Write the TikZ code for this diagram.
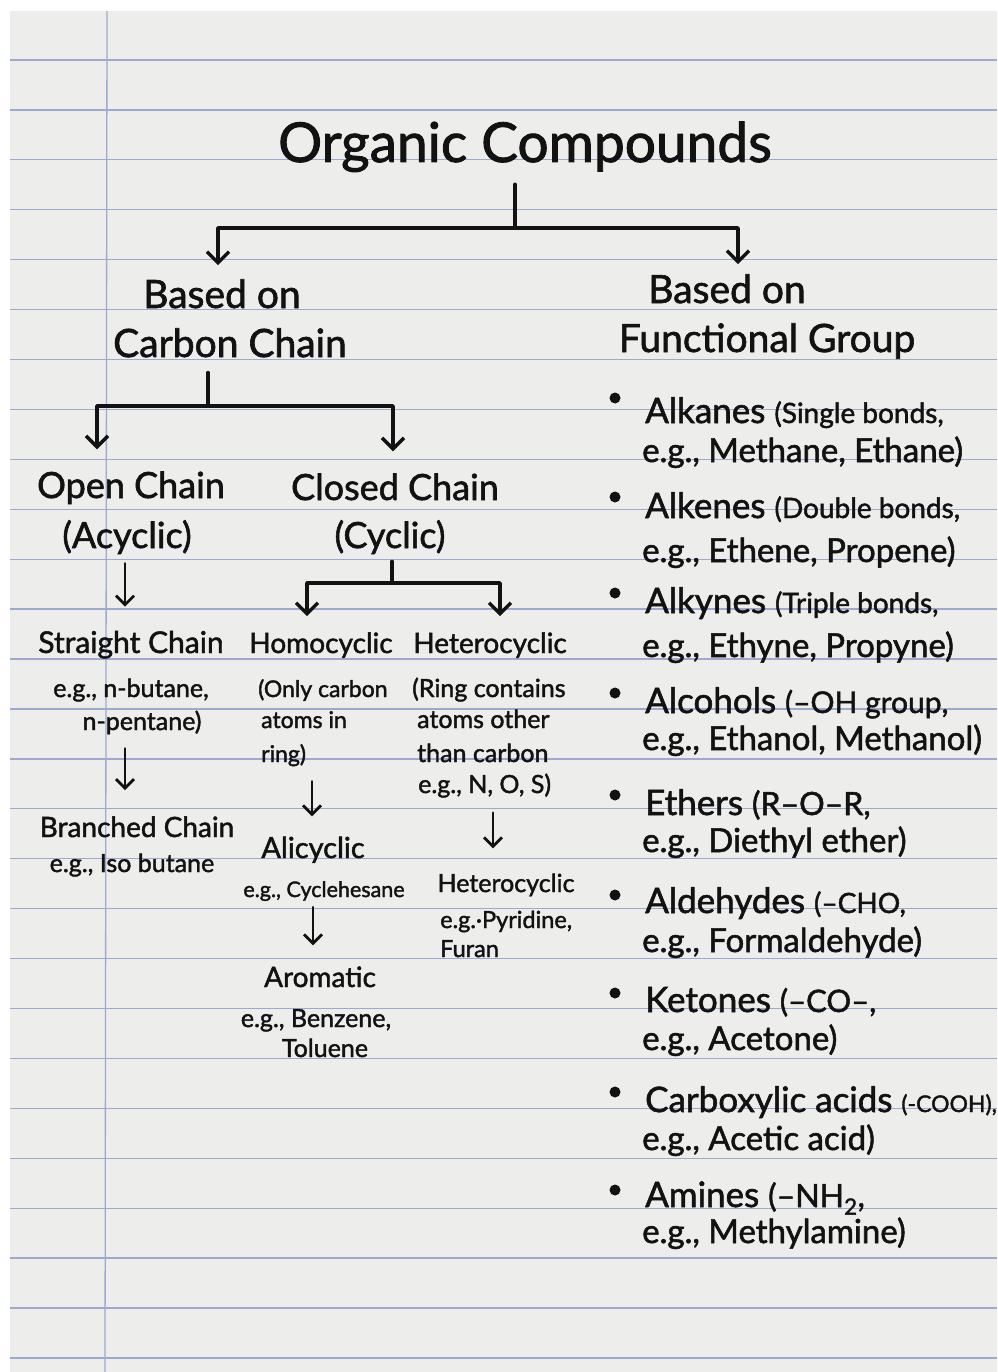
\documentclass[tikz,border=0pt]{standalone}
\usepackage{fontspec}
\setmainfont{Lato}[FakeBold=1.6]
\usetikzlibrary{arrows.meta}
\definecolor{paper}{RGB}{237,237,235}
\definecolor{rulec}{RGB}{156,170,208}
\definecolor{ink}{RGB}{18,18,18}
\newcommand{\fs}[1]{\fontsize{#1}{#1}\selectfont}
\begin{document}
\begin{tikzpicture}[x=1pt,y=-1pt,
  every node/.style={inner sep=0pt, text=ink},
  ln/.style={draw=ink, line width=3.4pt, line cap=round, line join=round},
  arr/.style={ln, -{Straight Barb[length=11pt,width=22pt]}},
  sarr/.style={draw=ink, line width=2.8pt, line cap=round, -{Straight Barb[length=9pt,width=18pt]}},
  dot/.style={circle, fill=ink, minimum size=11pt, inner sep=0pt},
  item/.style={anchor=base west, font=\fs{35}},
  eg/.style={anchor=base west, font=\fs{33}},
  head/.style={anchor=base, font=\fs{39}},
  sub/.style={anchor=base, font=\fs{36}},
  lvl/.style={anchor=base, font=\fs{28}},
  note/.style={anchor=base, font=\fs{25}},
  notel/.style={anchor=base west, font=\fs{23}},
  noter/.style={anchor=base west, font=\fs{25}},
]
\useasboundingbox (0,0) rectangle (997,1372);
\fill[white] (0,0) rectangle (997,1372);
\fill[paper] (10,11) rectangle (997,1372);
\foreach \k in {0,...,26}
  \draw[rulec, line width=1.3pt] (10,60+49.92*\k) -- (997,60+49.92*\k);
\draw[rulec, line width=1.3pt] (107,11) -- (105,1372);

% ---- title and first split
\node[anchor=base, font=\fs{55}] (title) at (525,162) {Organic Compounds};
\node[head] (lb1) at (222,308) {Based on};
\node[head] (lb2) at (230,357) {Carbon Chain};
\node[head] (rb1) at (727,303) {Based on};
\node[head] (rb2) at (767,352) {Functional Group};

\coordinate (j1) at (515,228);
\coordinate (t1) at ([xshift=-4pt,yshift=14pt]lb1.north);
\coordinate (t2) at ([xshift=11pt,yshift=10pt]rb1.north);
\draw[ln, shorten <=12pt] (title.south -| j1) -- (j1);
\draw[arr] (j1) -| (t1);
\draw[arr] (j1) -| (t2);

% ---- carbon chain split
\node[sub] (oc1) at (131,498) {Open Chain};
\node[sub] (oc2) at (127,548) {(Acyclic)};
\node[sub] (cc1) at (395,500) {Closed Chain};
\node[sub] (cc2) at (390,548) {(Cyclic)};
\coordinate (j2) at (208,406);
\coordinate (t3) at ([xshift=-34pt,yshift=22pt]oc1.north);
\coordinate (t4) at ([xshift=-2pt,yshift=22pt]cc1.north);
\draw[ln, shorten <=15pt] (lb2.south -| j2) -- (j2);
\draw[arr] (j2) -| (t3);
\draw[arr] (j2) -| (t4);

% ---- open chain branch
\node[anchor=base, font=\fs{30}] (sc) at (131,653) {Straight Chain};
\node[note] (sc1) at (131,697) {e.g., n-butane,};
\node[note] (sc2) at (142,730) {n-pentane)};
\node[lvl] (bc) at (137,837) {Branched Chain};
\node[note] (bc1) at (132,872) {e.g., Iso butane};
\coordinate (t5) at ([xshift=-6pt,yshift=24pt]sc.north);
\draw[sarr, shorten <=9pt] (oc2.south -| t5) -- (t5);
\coordinate (t6) at ([xshift=-12pt,yshift=26pt]bc.north);
\draw[sarr, shorten <=14pt] (sc2.south -| t6) -- (t6);

% ---- closed chain split
\node[lvl] (hom) at (321,653) {Homocyclic};
\node[lvl] (het) at (490,653) {Heterocyclic};
\coordinate (j3) at (392,583);
\coordinate (t7) at ([xshift=-14pt,yshift=16pt]hom.north);
\coordinate (t8) at ([xshift=10pt,yshift=16pt]het.north);
\draw[ln, shorten <=7pt] (cc2.south -| j3) -- (j3);
\draw[arr] (j3) -| (t7);
\draw[arr] (j3) -| (t8);

% ---- homocyclic branch
\node[notel] (h1) at (258,697) {(Only carbon};
\node[notel] (h2) at (261,728) {atoms in};
\node[notel] (h3) at (261,762) {ring)};
\node[anchor=base, font=\fs{29}] (ali) at (313,858) {Alicyclic};
\node[anchor=base, font=\fs{21.5}] (ali1) at (324,897) {e.g., Cyclehesane};
\node[lvl] (aro) at (320,987) {Aromatic};
\node[note] (aro1) at (316,1027) {e.g., Benzene,};
\node[note] (aro2) at (325,1057) {Toluene};
\coordinate (t9) at ([xshift=-1pt,yshift=20pt]ali.north);
\draw[sarr, shorten <=15pt] (h3.south -| t9) -- (t9);
\coordinate (t10) at ([xshift=-7pt,yshift=21pt]aro.north);
\draw[sarr, shorten <=6pt] (ali1.south -| t10) -- (t10);

% ---- heterocyclic branch
\node[noter] (e1) at (412,697) {(Ring contains};
\node[noter] (e2) at (417,728) {atoms other};
\node[noter] (e3) at (417,762) {than carbon};
\node[noter] (e4) at (418,793) {e.g., N, O, S)};
\node[anchor=base, font=\fs{25}] (het2) at (506,892) {Heterocyclic};
\node[anchor=base west, font=\fs{23.5}] (het3) at (440,928) {e.g.·Pyridine,};
\node[anchor=base west, font=\fs{23.5}] (het4) at (440,957) {Furan};
\coordinate (t11) at ([xshift=-13pt,yshift=25pt]het2.north);
\draw[sarr, shorten <=15pt] (e4.south -| t11) -- (t11);

% ---- functional groups
\node[dot] (d1) at (615,398) {};
\node[item] (i1) at (645,423) {Alkanes \fs{28}(Single bonds,};
\node[eg] (g1) at (642,462) {e.g., Methane, Ethane)};
\node[dot] (d2) at (615,497) {};
\node[item] (i2) at (645,518) {Alkenes \fs{28}(Double bonds,};
\node[eg] (g2) at (642,562) {e.g., Ethene, Propene)};
\node[dot] (d3) at (615,593) {};
\node[item] (i3) at (645,613) {Alkynes \fs{28}(Triple bonds,};
\node[eg] (g3) at (642,657) {e.g., Ethyne, Propyne)};
\node[dot] (d4) at (615,693) {};
\node[item] (i4) at (645,713) {Alcohols \fs{30}(–OH group,};
\node[eg] (g4) at (642,750) {e.g., Ethanol, Methanol)};
\node[dot] (d5) at (615,795) {};
\node[item] (i5) at (645,815) {Ethers \fs{32}(R–O–R,};
\node[eg] (g5) at (642,852) {e.g., Diethyl ether)};
\node[dot] (d6) at (615,895) {};
\node[item] (i6) at (645,913) {Aldehydes \fs{28}(–CHO,};
\node[eg] (g6) at (642,952) {e.g., Formaldehyde)};
\node[dot] (d7) at (615,993) {};
\node[item] (i7) at (645,1012) {Ketones \fs{31}(–CO–,};
\node[eg] (g7) at (642,1050) {e.g., Acetone)};
\node[dot] (d8) at (615,1092) {};
\node[item] (i8) at (645,1112) {Carboxylic acids \fs{23}(-COOH),};
\node[eg] (g8) at (642,1150) {e.g., Acetic acid)};
\node[dot] (d9) at (615,1190) {};
\node[item] (i9) at (645,1207) {Amines \fs{32}(–NH\textsubscript{2},};
\node[eg] (g9) at (642,1243) {e.g., Methylamine)};
\end{tikzpicture}
\end{document}
